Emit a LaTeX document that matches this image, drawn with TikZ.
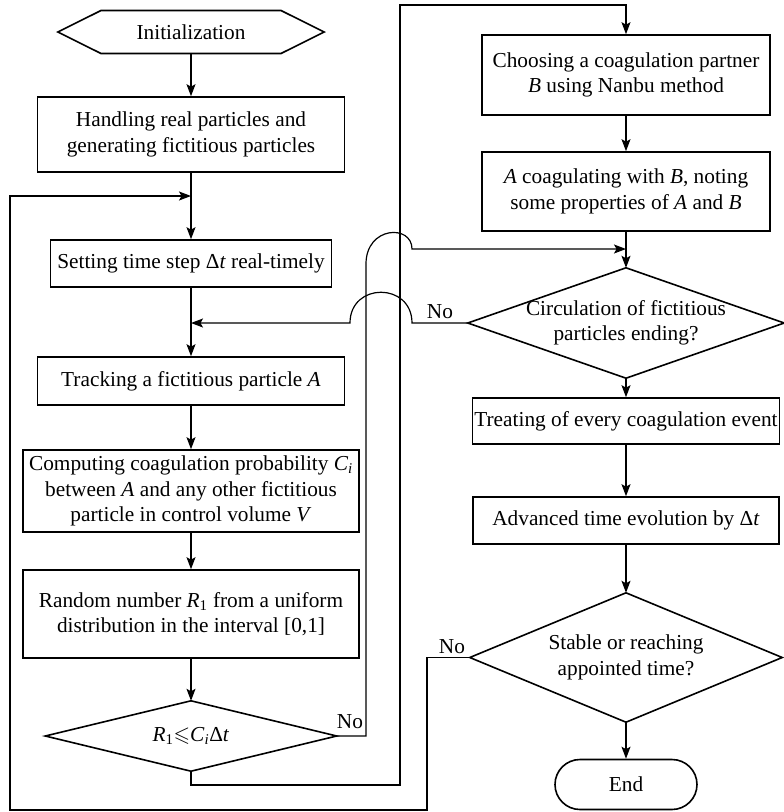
\documentclass[tikz,border=0pt]{standalone}
\usepackage{fontspec}
\setmainfont{Liberation Serif}
\usepackage{amssymb}
\usetikzlibrary{arrows.meta}
\begin{document}
\begin{tikzpicture}[x=1pt,y=-1pt,
  font=\fontsize{21.3}{25.5}\selectfont,
  box/.style={draw, line width=1.6pt, align=center, inner sep=2pt},
  dia/.style={align=center, inner sep=0pt},
  shp/.style={line width=1.6pt},
  ar/.style={-{Stealth[length=12pt,width=9pt,inset=2.5pt]}, line width=1.2pt},
  ln/.style={line width=1.2pt},
  lbl/.style={inner sep=1pt}]
\useasboundingbox (0,0) rectangle (784,812);

% left column
\node[dia, minimum width=266pt, minimum height=43pt] (init) at (191,32) {Initialization};
\draw[shp] (init.west) -- (101,10.5) -- (281,10.5) -- (init.east) -- (281,53.5) -- (101,53.5) -- cycle;
\node[box, minimum width=307pt, minimum height=75pt] (handle) at (191,134.5) {Handling real particles and\\generating fictitious particles};
\node[box, minimum width=281pt, minimum height=47pt] (setstep) at (191,263.5) {Setting time step Δ\textit{t} real-timely};
\node[box, minimum width=307pt, minimum height=48pt] (track) at (191,381) {Tracking a fictitious particle \textit{A}};
\node[box, minimum width=336pt, minimum height=82pt] (compute) at (191,491) {Computing coagulation probability \textit{C}\textsubscript{\textit{i}}\\between \textit{A} and any other fictitious\\particle in control volume \textit{V}};
\node[box, minimum width=336pt, minimum height=88pt] (random) at (191,614) {Random number \textit{R}\textsubscript{1} from a uniform\\distribution in the interval [0,1]};
\node[dia, minimum width=291pt, minimum height=70pt] (dR1) at (191,736) {\textit{R}\textsubscript{1}$\leqslant$\textit{C}\textsubscript{\textit{i}}Δ\textit{t}};
\draw[shp] (dR1.north) -- (dR1.east) -- (dR1.south) -- (dR1.west) -- cycle;

% right column
\node[box, minimum width=288pt, minimum height=80pt] (choose) at (626,75) {Choosing a coagulation partner\\\textit{B} using Nanbu method};
\node[box, minimum width=288pt, minimum height=79pt] (coag) at (626,191.5) {\textit{A} coagulating with \textit{B}, noting\\some properties of \textit{A} and \textit{B}};
\node[dia, minimum width=316pt, minimum height=110pt] (dCirc) at (626,323) {Circulation of fictitious\\particles ending?};
\draw[shp] (dCirc.north) -- (dCirc.east) -- (dCirc.south) -- (dCirc.west) -- cycle;
\node[box, minimum width=307pt, minimum height=46pt, inner sep=0pt] (treat) at (626,421) {Treating of every coagulation event};
\node[box, minimum width=306pt, minimum height=47pt] (adv) at (626,520.5) {Advanced time evolution by Δ\textit{t}};
\node[dia, minimum width=312pt, minimum height=129pt] (dStable) at (626,657.5) {Stable or reaching\\appointed time?};
\draw[shp] (dStable.north) -- (dStable.east) -- (dStable.south) -- (dStable.west) -- cycle;
\node[box, rounded corners=25pt, minimum width=142pt, minimum height=50pt] (end) at (626,784.5) {End};

% labels
\node[lbl] (no1) at (350,722) {No};
\node[lbl] (no2) at (440,312) {No};
\node[lbl] (no3) at (452,647) {No};

% helper coordinates
\coordinate (j1) at (191,196);
\coordinate (j2) at (191,323);
\coordinate (j3) at (626,249);
\coordinate (c1) at (366,736);
\coordinate (c2) at (366,264);
\coordinate (c3) at (412,249);
\coordinate (h1) at (412,323);
\coordinate (h2) at (350,323);
\coordinate (b1) at (400,785);
\coordinate (b2) at (626,5);
\coordinate (s1) at (427,810);
\coordinate (s2) at (10,196);

% main flow
\draw[ar] (init) -- (handle);
\draw[ar] (handle) -- (setstep);
\draw[ar] (setstep) -- (track);
\draw[ar] (track) -- (compute);
\draw[ar] (compute) -- (random);
\draw[ar] (random) -- (dR1);
\draw[ar] (choose) -- (coag);
\draw[ar] (coag) -- (dCirc);
\draw[ar] (dCirc) -- (treat);
\draw[ar] (treat) -- (adv);
\draw[ar] (adv) -- (dStable);
\draw[ar] (dStable) -- (end);

% loops
\draw[ar] (dR1.south) |- (b1) |- (b2) -- (choose);
\draw[ar] (dR1.east) -- (c1) -- (c2) .. controls (366,226) and (412,224) .. (c3) -- (j3);
\draw[ar] (dCirc.west) -- (h1) .. controls (412,282) and (350,282) .. (h2) -- (j2);
\draw[ar] (dStable.west) -| (s1) -| (s2) -- (j1);
\end{tikzpicture}
\end{document}
